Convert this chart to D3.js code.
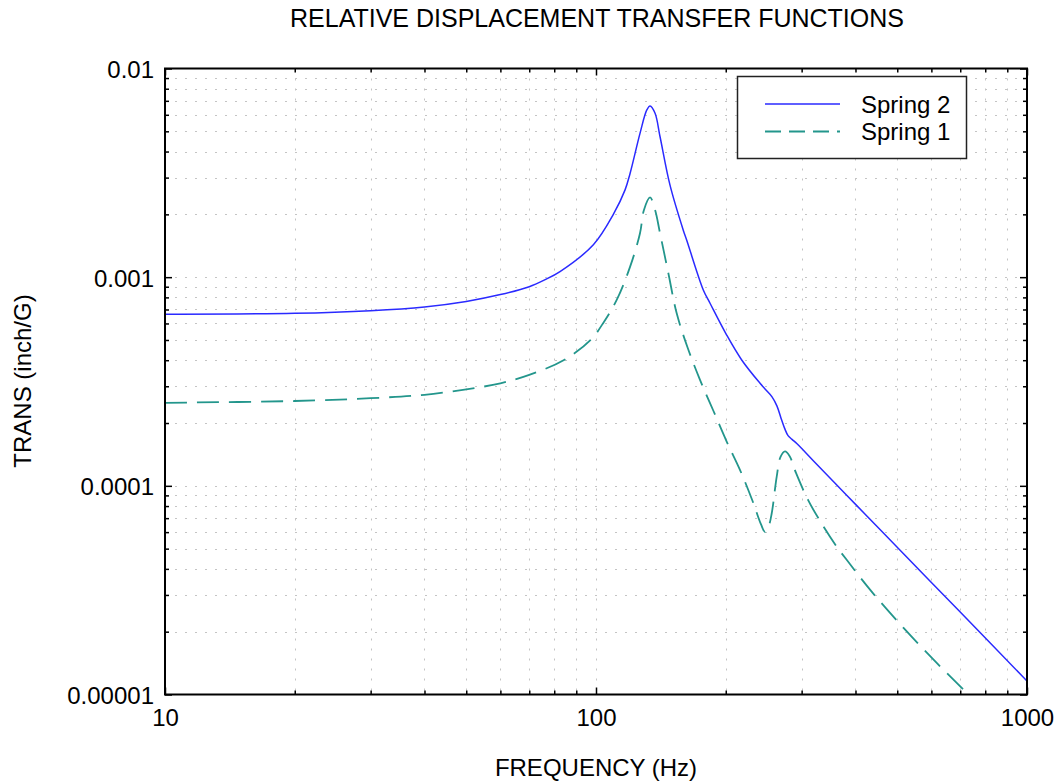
<!DOCTYPE html>
<html>
<head>
<meta charset="utf-8">
<script src="https://cdn.jsdelivr.net/npm/d3@7"></script>
<style>
  html, body { margin: 0; padding: 0; background: #fff; }
  svg { display: block; }
  text { font-family: Arial, "Liberation Sans", Helvetica, sans-serif; fill: #000; }
</style>
</head>
<body>
<svg id="chart" width="1060" height="784"></svg>
<script>
// ---- data ----
const titleText = "RELATIVE DISPLACEMENT TRANSFER FUNCTIONS";
const xLabelText = "FREQUENCY (Hz)";
const yLabelText = "TRANS (inch/G)";
const seriesNames = ["Spring 2", "Spring 1"];

const xMajorTicks = [10, 100, 1000];
const xTickLabels = ["10", "100", "1000"];
const yMajorTicks = [1e-5, 1e-4, 1e-3, 1e-2];
const yTickLabels = ["0.00001", "0.0001", "0.001", "0.01"];

// Spring 2 (solid blue)
const freqSpring2 = [10, 20, 30, 40, 50, 60, 70, 76, 82.5, 98.6, 109.7, 116.8, 120, 126.5, 131.2, 133.5, 137.1, 140.8,
  148.5, 159.4, 162.3, 177.4, 183.9, 201, 217.8, 240.2, 246.7, 256.1, 263.0, 268.7, 273.8, 279.0, 285.0, 292.7,
  319.3, 381.6, 456, 699, 1000];
const valSpring2 = [6.64e-4, 6.71e-4, 6.91e-4, 7.2e-4, 7.65e-4, 8.25e-4, 9.0e-4, 9.7e-4, 1.063e-3, 1.43e-3, 2.0e-3, 2.62e-3, 3.15e-3, 4.89e-3, 6.33e-3, 6.61e-3, 6.10e-3, 4.71e-3,
  2.76e-3, 1.68e-3, 1.507e-3, 8.68e-4, 7.50e-4, 5.28e-4, 4.01e-4, 3.10e-4, 2.91e-4, 2.67e-4, 2.41e-4, 2.11e-4, 1.89e-4, 1.74e-4, 1.67e-4, 1.59e-4,
  1.32e-4, 9.02e-5, 6.17e-5, 2.49e-5, 1.16e-5];

// Spring 1 (dashed teal)
const freqSpring1 = [10, 20, 30, 40, 50, 60, 70, 84.3, 97.2, 104.4, 111.7, 120, 126.5, 129.2, 133.5, 137.1, 140.8, 147.2, 153.9,
  163.1, 174.3, 187.2, 201, 215.9, 230.7, 241.5, 246.7, 251.3, 255.7, 262.6, 268.0, 274.5, 281.2, 291.1, 310.4, 331.0,
  361.9, 381.6, 432.3, 516.4, 617.3, 724.6, 760];
const valSpring1 = [2.50e-4, 2.55e-4, 2.63e-4, 2.73e-4, 2.90e-4, 3.10e-4, 3.40e-4, 4.01e-4, 5.00e-4, 6.12e-4, 7.78e-4, 1.123e-3, 1.623e-3, 2.10e-3, 2.41e-3, 2.10e-3, 1.623e-3, 1.044e-3, 6.71e-4,
  4.60e-4, 3.22e-4, 2.29e-4, 1.63e-4, 1.19e-4, 8.48e-5, 6.53e-5, 6.01e-5, 6.36e-5, 7.39e-5, 1.107e-4, 1.376e-4, 1.462e-4, 1.391e-4, 1.153e-4, 8.56e-5, 6.79e-5,
  5.11e-5, 4.42e-5, 3.18e-5, 2.09e-5, 1.417e-5, 1.018e-5, 9.2e-6];

// ---- layout ----
const L = 165, R = 1027, T = 68.5, B = 694.5;
const FONT = 24;

const svg = d3.select("#chart");
const x = d3.scaleLog().domain([10, 1000]).range([L, R]);
const y = d3.scaleLog().domain([1e-5, 1e-2]).range([B, T]);

const xMinor = x.ticks().filter(v => !xMajorTicks.includes(v));
const yMinor = y.ticks().filter(v => !yMajorTicks.some(m => Math.abs(m - v) / m < 1e-9));
const xAll = x.ticks();
const yAll = y.ticks();

// grid
const grid = svg.append("g").attr("stroke", "#c4c4c4").attr("stroke-width", 1).attr("stroke-dasharray", "2,8");
grid.selectAll("line.gx").data(xAll.filter(v => v > 10 && v < 1000)).join("line")
  .attr("x1", d => Math.round(x(d)) + 0.5).attr("x2", d => Math.round(x(d)) + 0.5)
  .attr("y1", T).attr("y2", B);
grid.selectAll("line.gy").data(yAll.filter(v => v > 1.0001e-5 && v < 0.99e-2)).join("line")
  .attr("y1", d => Math.round(y(d)) + 0.5).attr("y2", d => Math.round(y(d)) + 0.5)
  .attr("x1", L).attr("x2", R);

// curves
svg.append("clipPath").attr("id", "plotclip").append("rect")
  .attr("x", L).attr("y", T).attr("width", R - L).attr("height", B - T);

const line = d3.line().x(d => x(d[0])).y(d => y(d[1])).curve(d3.curveCatmullRom.alpha(0.5));
const s2 = freqSpring2.map((f, i) => [f, valSpring2[i]]);
const s1 = freqSpring1.map((f, i) => [f, valSpring1[i]]);

const curves = svg.append("g").attr("clip-path", "url(#plotclip)");
curves.append("path").datum(s1).attr("d", line)
  .attr("fill", "none").attr("stroke", "#23968c").attr("stroke-width", 1.8)
  .attr("stroke-dasharray", "22,10");
curves.append("path").datum(s2).attr("d", line)
  .attr("fill", "none").attr("stroke", "#2a2aff").attr("stroke-width", 1.5);

// axes (ticks inward on all four sides)
function styleAxis(g) {
  g.select(".domain").remove();
  g.selectAll(".tick line").attr("stroke", "#000").attr("stroke-width", 1.5);
  g.selectAll(".tick text").attr("font-size", FONT).attr("font-family", "Arial, 'Liberation Sans', Helvetica, sans-serif").attr("fill", "#000");
}
// minor
svg.append("g").attr("transform", `translate(0,${B})`)
  .call(d3.axisBottom(x).tickValues(xMinor).tickSize(-4).tickFormat("")).call(styleAxis);
svg.append("g").attr("transform", `translate(0,${T})`)
  .call(d3.axisTop(x).tickValues(xMinor).tickSize(-4).tickFormat("")).call(styleAxis);
svg.append("g").attr("transform", `translate(${L},0)`)
  .call(d3.axisLeft(y).tickValues(yMinor).tickSize(-4).tickFormat("")).call(styleAxis);
svg.append("g").attr("transform", `translate(${R},0)`)
  .call(d3.axisRight(y).tickValues(yMinor).tickSize(-4).tickFormat("")).call(styleAxis);
// major with labels
svg.append("g").attr("transform", `translate(0,${B})`)
  .call(d3.axisBottom(x).tickValues(xMajorTicks).tickSize(-7).tickPadding(14)
    .tickFormat((d, i) => xTickLabels[i])).call(styleAxis);
svg.append("g").attr("transform", `translate(0,${T})`)
  .call(d3.axisTop(x).tickValues(xMajorTicks).tickSize(-7).tickFormat("")).call(styleAxis);
const yAx = svg.append("g").attr("transform", `translate(${L},0)`)
  .call(d3.axisLeft(y).tickValues(yMajorTicks).tickSize(-7).tickPadding(11)
    .tickFormat((d, i) => yTickLabels[i])).call(styleAxis);
yAx.selectAll(".tick text").attr("dy", "0.37em");
svg.append("g").attr("transform", `translate(${R},0)`)
  .call(d3.axisRight(y).tickValues(yMajorTicks).tickSize(-7).tickFormat("")).call(styleAxis);

// frame
svg.append("rect").attr("x", L).attr("y", T).attr("width", R - L).attr("height", B - T)
  .attr("fill", "none").attr("stroke", "#000").attr("stroke-width", 2);

// titles
svg.append("text").attr("x", 597).attr("y", 27).attr("text-anchor", "middle")
  .attr("font-size", 25).text(titleText);
svg.append("text").attr("x", 596).attr("y", 776).attr("text-anchor", "middle")
  .attr("font-size", FONT).text(xLabelText);
svg.append("text").attr("transform", "translate(31,381) rotate(-90)").attr("text-anchor", "middle")
  .attr("font-size", FONT).text(yLabelText);

// legend
const lg = svg.append("g");
lg.append("rect").attr("x", 737.5).attr("y", 76.5).attr("width", 229).attr("height", 82)
  .attr("fill", "#fff").attr("stroke", "#222").attr("stroke-width", 1.5);
const legendStyles = [
  { color: "#2a2aff", dash: null, width: 1.5 },
  { color: "#23968c", dash: "16,8", width: 1.8 }
];
seriesNames.forEach((name, i) => {
  const yy = 104 + i * 27.5;
  const ln = lg.append("line").attr("x1", 765).attr("x2", 840).attr("y1", yy).attr("y2", yy)
    .attr("stroke", legendStyles[i].color).attr("stroke-width", legendStyles[i].width);
  if (legendStyles[i].dash) ln.attr("stroke-dasharray", legendStyles[i].dash);
  lg.append("text").attr("x", 861).attr("y", yy + 8.5).attr("font-size", FONT).text(name);
});
</script>
</body>
</html>
